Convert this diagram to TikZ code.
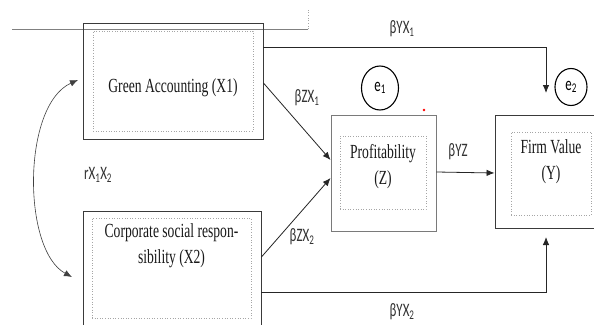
\documentclass[tikz,border=0pt]{standalone}
\usepackage{fontspec}
\usepackage{graphicx}
\setmainfont{Liberation Serif}
\newfontfamily\lblfont{Carlito}
\usetikzlibrary{arrows.meta,shapes.geometric}
\definecolor{boxgray}{HTML}{3A3A3A}
\definecolor{lightbox}{HTML}{7A7A7A}
\definecolor{lbl}{HTML}{333333}
\newcommand{\sq}[1]{\scalebox{0.68}[1]{#1}}
\newcommand{\boxtxt}[1]{\sq{\fontsize{20}{26}\selectfont\begin{tabular}{@{}c@{}}#1\end{tabular}}}
\newcommand{\lbltxt}[1]{\sq{\lblfont\fontsize{19}{22}\selectfont #1}}
\tikzset{
  outerbox/.style={draw=boxgray, line width=0.9pt, inner sep=0pt, fill=none},
  innerbox/.style={draw=gray!70, dotted, line width=0.6pt, inner sep=0pt},
  txt/.style={inner sep=0pt, text=black!90},
  conn/.style={draw=black!85, line width=0.8pt, -{Latex[length=8pt,width=6.5pt]}},
  lab/.style={text=lbl, inner sep=0pt},
  errc/.style={draw=black, line width=1.1pt, ellipse, inner sep=0pt},
}
\begin{document}
\begin{tikzpicture}[x=1pt,y=-1pt]
\useasboundingbox (0,0) rectangle (594,324);
\clip (0,0) rectangle (594,324);
\fill[white] (0,0) rectangle (594,324);
% top stray line
\coordinate (tl1) at (12,29);
\coordinate (tl2) at (308,29);
\coordinate (tl3) at (308,10);
\draw[gray, line width=0.6pt] (tl1) -- (tl2);
\draw[gray!70, dotted, line width=0.7pt] (tl2) -- (tl3);
% boxes
\node[outerbox, minimum width=180pt, minimum height=116pt] (GA) at (173,81) {};
\node[innerbox, minimum width=160pt, minimum height=100pt] (GAi) at (173,81) {};
\node[txt] (GAt) at (173,87) {\boxtxt{Green Accounting (X1)}};
\node[outerbox, minimum width=178pt, minimum height=117pt] (CSR) at (172,269.5) {};
\node[innerbox, minimum width=159pt, minimum height=100pt] (CSRi) at (171.5,268) {};
\node[txt] (CSRt) at (171.5,245) {\boxtxt{Corporate social respon-\\sibility (X2)}};
\node[outerbox, draw=lightbox, minimum width=105pt, minimum height=116pt] (P) at (383.5,173) {};
\node[innerbox, minimum width=86pt, minimum height=73pt] (Pi) at (383,172.5) {};
\node[txt] (Pt) at (383,166) {\boxtxt{Profitability\\(Z)}};
\node[outerbox, minimum width=109pt, minimum height=113pt] (FV) at (549.5,171.5) {};
\node[innerbox, minimum width=80pt, minimum height=83pt] (FVi) at (551,173.5) {};
\node[txt] (FVt) at (551,161) {\boxtxt{Firm Value\\(Y)}};
% error circles
\node[errc, minimum width=37pt, minimum height=44pt] (e1) at (380,88) {\lbltxt{e\textsubscript{1}}};
\node[errc, minimum width=32pt, minimum height=37pt] (e2) at (571,87) {\lbltxt{e\textsubscript{2}}};
\fill[red] (424,110) circle (1.3pt);
% connectors
\coordinate (t1) at (546,93);
\coordinate (t2) at (546,237);
\draw[conn] ([yshift=34pt]GA.east) -| (t1);
\draw[conn] ([yshift=-22.5pt]CSR.east) -| (t2);
\draw[conn] ([yshift=-2pt]GA.east) -- ([yshift=13pt]P.west);
\draw[conn] ([yshift=12.5pt]CSR.east) -- ([yshift=-5pt]P.west);
\draw[conn] ([yshift=1pt]P.east) -- ([yshift=-1.5pt]FV.west);
\coordinate (c1) at (78,80);
\coordinate (c2) at (72,277);
\draw[draw=black!75, line width=0.6pt, {Latex[length=8pt,width=6.5pt]}-{Latex[length=8pt,width=6.5pt]}] (c1) .. controls (22,105) and (22,250) .. (c2);
% labels
\node[lab] (l1) at (402,29) {\lbltxt{βYX\textsubscript{1}}};
\node[lab] (l2) at (307,98) {\lbltxt{βZX\textsubscript{1}}};
\node[lab] (l3) at (302,237) {\lbltxt{βZX\textsubscript{2}}};
\node[lab] (l4) at (458,152) {\lbltxt{βYZ}};
\node[lab] (l5) at (402,312) {\lbltxt{βYX\textsubscript{2}}};
\node[lab] (l6) at (98,175) {\lbltxt{rX\textsubscript{1}X\textsubscript{2}}};
\end{tikzpicture}
\end{document}
